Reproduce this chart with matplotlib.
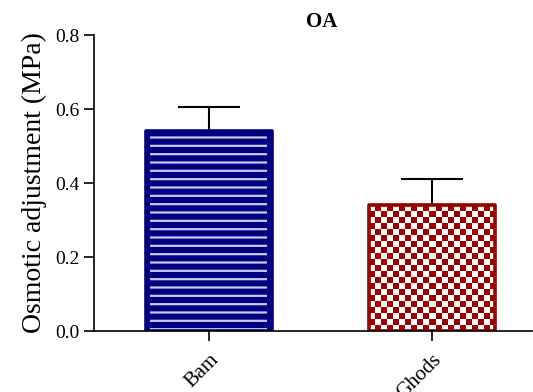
import numpy as np
import matplotlib
matplotlib.use("Agg")
import matplotlib.pyplot as plt

# osmotic adjustment per cultivar
cultivars = ["Bam", "Ghods"]
oa_mean = [0.54, 0.34]
oa_err = [0.065, 0.07]

plt.rcParams["font.family"] = ["Liberation Serif", "DejaVu Serif"]
plt.rcParams["hatch.linewidth"] = 1.6

navy = "#000080"
darkred = "#9b0000"

fig = plt.figure(figsize=(5.33, 3.92), dpi=100)
ax = fig.add_axes([0.176, 0.1556, 0.822, 0.755])

x = np.arange(len(cultivars))
w = 0.565

# filled bars
bars = ax.bar(x, oa_mean, width=w, color=[navy, "white"], linewidth=0, zorder=2)

# horizontal stripes on the first bar, kept a little inside the outline
ax.bar(x[0], oa_mean[0], width=w - 0.04, color="none", edgecolor="#c9c9ee",
       linewidth=0, hatch="--", zorder=2.2)

# checkerboard texture for the second bar, clipped to its outline
b = bars[1]
x0, y0 = b.get_x(), b.get_y()
bw, bh = b.get_width(), b.get_height()
nx, ny = 21, 21
checker = (np.add.outer(np.arange(ny), np.arange(nx)) % 2).astype(float)
cmap = matplotlib.colors.ListedColormap(["white", darkred])
im = ax.imshow(checker, cmap=cmap, extent=(x0, x0 + bw, y0, y0 + bh),
               origin="lower", interpolation="nearest", aspect="auto", zorder=2.2)
im.set_clip_path(b)

# outlines on top
ax.bar(x, oa_mean, width=w, color="none", edgecolor=[navy, darkred],
       linewidth=2.6, joinstyle="round", zorder=2.5)

ax.errorbar(x, oa_mean, yerr=[np.zeros(len(oa_err)), oa_err], fmt="none",
            ecolor="black", elinewidth=1.5, capsize=22, capthick=1.5, zorder=1)

ax.set_xlim(-0.516, 1.448)
ax.set_ylim(0, 0.8)
ax.set_yticks([0.0, 0.2, 0.4, 0.6, 0.8])
ax.set_yticklabels(["0.0", "0.2", "0.4", "0.6", "0.8"])
ax.set_xticks(x)
ax.set_xticklabels(cultivars, rotation=45, ha="right", rotation_mode="anchor")
ax.tick_params(axis="both", labelsize=14, length=7, width=1.2, direction="out")
ax.tick_params(axis="x", labelsize=15, pad=7)
ax.set_ylabel("Osmotic adjustment (MPa)", fontsize=20, labelpad=6)
ax.set_title("OA", fontsize=15, fontweight="bold", pad=6, x=0.52)

for side in ("top", "right"):
    ax.spines[side].set_visible(False)
for side in ("left", "bottom"):
    ax.spines[side].set_linewidth(1.2)

fig.savefig("out.png", dpi=100)
